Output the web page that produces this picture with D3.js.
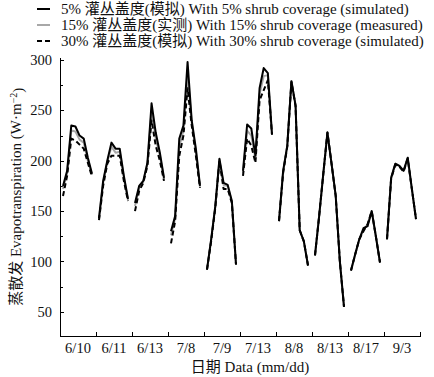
<!DOCTYPE html>
<html lang="zh">
<head>
  <meta charset="UTF-8">
  <title>D3 -- 蒸散发</title>
  <style>
    * {
      margin: 0;
      padding: 0;
    }

    body {
      background-color: #fff;
    }

    svg text {
      font-family: 'Liberation Serif', 'Noto Sans CJK SC', serif;
      fill: #111;
    }

    .axis path,
    .axis line {
      fill: none;
      stroke: #000;
      shape-rendering: crispEdges;
    }
  </style>
</head>
<body>
<div class="chart"></div>
</body>
<script src="https://d3js.org/d3.v7.min.js"></script>
<script>
  // 日期（每个日期一段，每段8个时刻）
  let dates = ['6/10', '6/11', '6/13', '7/8', '7/9', '7/13', '8/8', '8/13', '8/17', '9/3']
  let hours = [9, 10, 11, 12, 13, 14, 15, 16]
  let yTicks = [50, 100, 150, 200, 250, 300]

  // 5% 灌丛盖度(模拟)
  let cover5 = [
    [175, 190, 235, 234, 225, 222, 203, 187],
    [143, 180, 200, 218, 212, 212, 185, 162],
    [158, 175, 180, 198, 257, 228, 208, 183],
    [130, 145, 222, 235, 298, 240, 212, 175],
    [92, 122, 155, 202, 178, 176, 160, 97],
    [190, 236, 232, 205, 272, 292, 287, 226],
    [140, 190, 215, 279, 255, 131, 120, 96],
    [106, 145, 187, 228, 197, 165, 100, 55],
    [91, 107, 122, 133, 135, 150, 125, 99],
    [122, 183, 197, 195, 190, 203, 172, 142]
  ]
  // 15% 灌丛盖度(实测)
  let cover15 = [
    [172, 188, 230, 229, 221, 218, 200, 186],
    [142, 178, 199, 214, 208, 209, 183, 161],
    [155, 173, 179, 197, 250, 222, 205, 182],
    [126, 143, 214, 230, 286, 238, 209, 174],
    [92, 121, 154, 201, 176, 175, 159, 97],
    [188, 230, 225, 202, 266, 284, 285, 226],
    [140, 189, 215, 279, 255, 131, 120, 96],
    [106, 145, 187, 228, 197, 165, 100, 55],
    [91, 107, 122, 131, 137, 150, 125, 99],
    [122, 183, 197, 195, 190, 203, 172, 142]
  ]
  // 30% 灌丛盖度(模拟)
  let cover30 = [
    [165, 185, 222, 220, 216, 212, 198, 184],
    [141, 175, 197, 205, 205, 205, 180, 160],
    [150, 170, 178, 195, 240, 215, 200, 180],
    [118, 140, 205, 225, 272, 235, 205, 173],
    [92, 120, 153, 200, 172, 172, 158, 97],
    [185, 222, 215, 198, 260, 270, 280, 226],
    [140, 188, 214, 278, 254, 131, 120, 96],
    [106, 145, 187, 228, 197, 165, 100, 55],
    [91, 107, 122, 130, 137, 150, 125, 99],
    [122, 182, 196, 194, 189, 202, 172, 142]
  ]

  let legendNames = [
    '5% 灌丛盖度(模拟) With 5% shrub coverage (simulated)',
    '15% 灌丛盖度(实测) With 15% shrub coverage (measured)',
    '30% 灌丛盖度(模拟) With 30% shrub coverage (simulated)'
  ]

  let width = 434
  let height = 377
  let paddingL = 60
  let paddingR = 14
  let axisTop = 57.5
  let axisBottom = 336

  let svg = d3.select('.chart').append('svg').attr('width', width).attr('height', height)

  let xBand = d3.scaleBand().domain(dates).range([paddingL, width - paddingR])
  let xEdge = d3.scaleLinear().domain([0, dates.length]).range([paddingL, width - paddingR])
  let xHour = d3.scalePoint().domain(hours).range([3, 32])
  let yScale = d3.scaleLinear().domain([26, 302.5]).range([axisBottom, axisTop])

  let seriesList = [
    { data: cover15, color: '#a8a8a8', dash: null },
    { data: cover30, color: '#000', dash: '5,3' },
    { data: cover5, color: '#000', dash: null }
  ]

  drawChart()

  function drawChart () {
    drawAxis() // 坐标轴
    drawLines() // 折线
    drawLegend() // 图例
  }

  function drawAxis () {
    // y 轴：主刻度 + 次刻度，刻度朝内
    let minor = yTicks.slice(0, -1).map(d => d + 25)
    let gMinor = svg.append('g').attr('class', 'axis')
      .attr('transform', 'translate(' + paddingL + ',0)')
      .call(d3.axisRight(yScale).tickValues(minor).tickSize(3).tickFormat(''))
    gMinor.select('.domain').remove()

    svg.append('g').attr('class', 'axis')
      .attr('transform', 'translate(' + paddingL + ',0)')
      .call(d3.axisRight(yScale).tickValues(yTicks).tickSize(4).tickSizeOuter(0).tickFormat(''))

    svg.append('g')
      .selectAll('text')
      .data(yTicks)
      .join('text')
      .attr('x', paddingL - 8)
      .attr('y', d => yScale(d))
      .attr('dy', '0.35em')
      .attr('text-anchor', 'end')
      .style('font-size', '14.5px')
      .text(d => d)

    // x 轴：刻度在日期分界处，标签居中
    svg.append('g').attr('class', 'axis')
      .attr('transform', 'translate(0,' + axisBottom + ')')
      .call(d3.axisTop(xEdge).tickValues(d3.range(1, dates.length + 1)).tickSize(4).tickSizeOuter(0).tickFormat(''))

    svg.append('g')
      .selectAll('text')
      .data(dates)
      .join('text')
      .attr('x', d => xBand(d) + xBand.bandwidth() / 2)
      .attr('y', axisBottom + 17)
      .attr('text-anchor', 'middle')
      .style('font-size', '14.5px')
      .text(d => d)

    svg.append('text')
      .attr('x', 250)
      .attr('y', 372)
      .attr('text-anchor', 'middle')
      .style('font-size', '15px')
      .text('日期 Data (mm/dd)')

    let yTitle = svg.append('text')
      .attr('transform', 'translate(21,' + (axisTop + axisBottom) / 2 + ') rotate(-90)')
      .attr('text-anchor', 'middle')
      .style('font-size', '15px')
    yTitle.append('tspan').text('蒸散发 Evapotranspiration (W·m')
    yTitle.append('tspan').attr('dy', '-0.4em').style('font-size', '10px').text('−2')
    yTitle.append('tspan').attr('dy', '0.4em').text(')')
  }

  function drawLines () {
    let line = d3.line()
      .x(d => d.x)
      .y(d => yScale(d.v))

    seriesList.forEach(s => {
      let g = svg.append('g')
      g.selectAll('path')
        .data(s.data.map((day, i) => day.map((v, j) => ({
          x: xBand(dates[i]) + xHour(hours[j]),
          v: v
        }))))
        .join('path')
        .attr('d', line)
        .attr('fill', 'none')
        .attr('stroke', s.color)
        .attr('stroke-width', 2)
        .attr('stroke-linejoin', 'round')
        .attr('stroke-dasharray', s.dash)
    })
  }

  function drawLegend () {
    let legendStyles = [
      { color: '#000', dash: null },
      { color: '#a8a8a8', dash: null },
      { color: '#000', dash: '5,3' }
    ]
    let g = svg.append('g')
    legendNames.forEach((name, i) => {
      let y = 9 + i * 16
      g.append('line')
        .attr('x1', 37).attr('x2', 50)
        .attr('y1', y).attr('y2', y)
        .attr('stroke', legendStyles[i].color)
        .attr('stroke-width', 2)
        .attr('stroke-dasharray', legendStyles[i].dash)
      g.append('text')
        .attr('x', 61)
        .attr('y', y)
        .attr('dy', '0.35em')
        .style('font-size', '15px')
        .text(name)
    })
  }
</script>
</html>
